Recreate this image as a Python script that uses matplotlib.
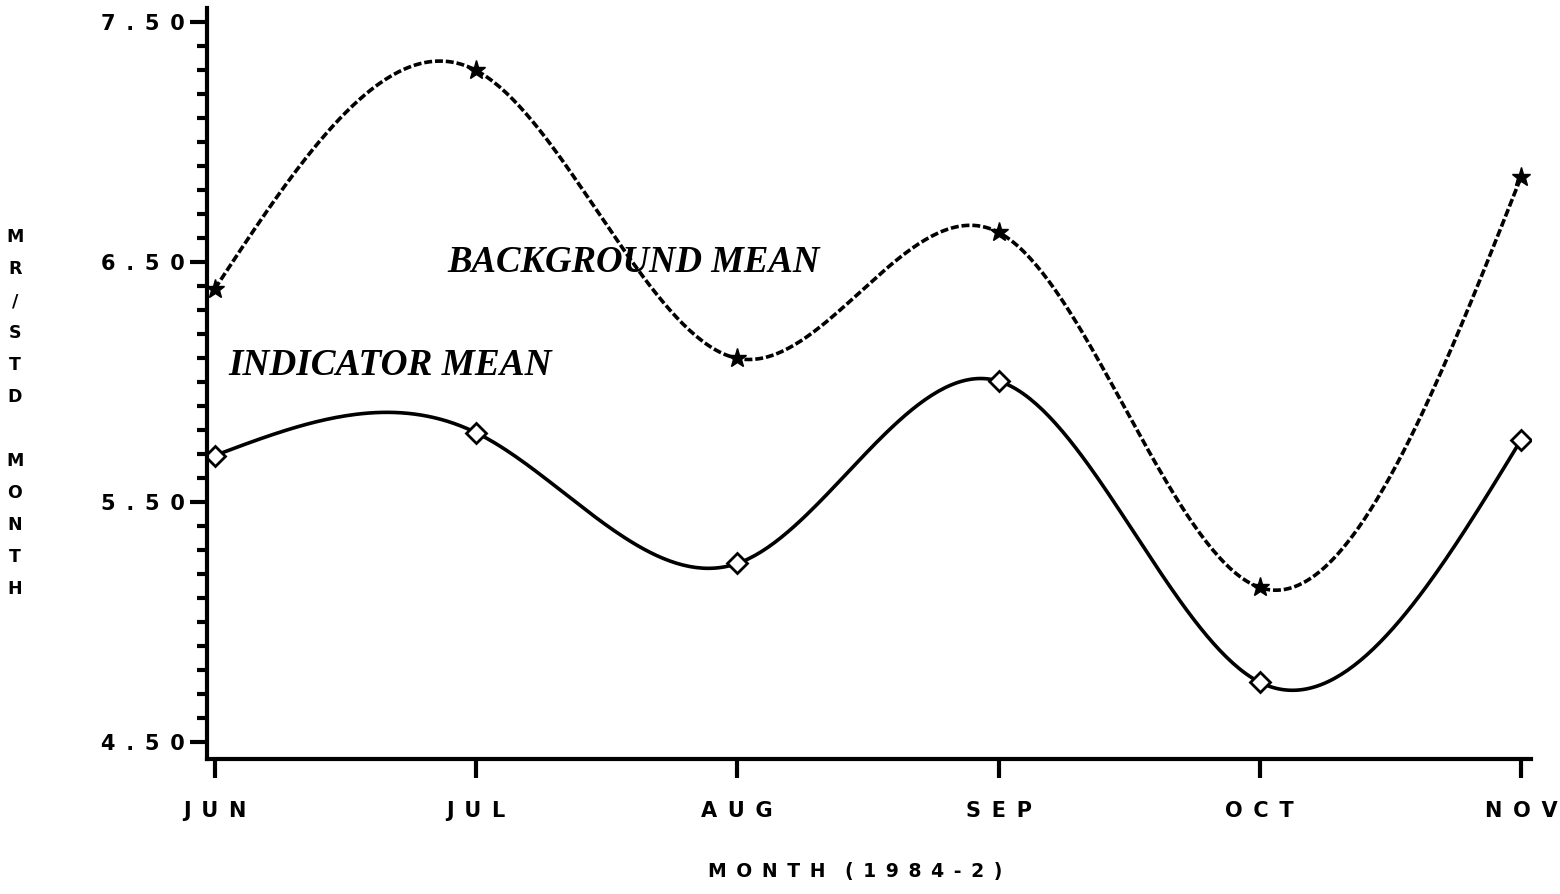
import numpy as np
import matplotlib
matplotlib.use("Agg")
import matplotlib.pyplot as plt

# data
months = ["JUN", "JUL", "AUG", "SEP", "OCT", "NOV"]
background_mean = [6.39, 7.30, 6.10, 6.625, 5.145, 6.855]
indicator_mean = [5.695, 5.79, 5.245, 6.005, 4.75, 5.76]
y_ticks = [4.50, 5.50, 6.50, 7.50]


def natural_spline(x, y, xs):
    """Natural cubic spline through (x, y), evaluated at xs."""
    x = np.asarray(x, float)
    y = np.asarray(y, float)
    n = len(x)
    h = np.diff(x)
    A = np.zeros((n, n))
    b = np.zeros(n)
    A[0, 0] = A[-1, -1] = 1.0
    for i in range(1, n - 1):
        A[i, i - 1] = h[i - 1]
        A[i, i] = 2 * (h[i - 1] + h[i])
        A[i, i + 1] = h[i]
        b[i] = 6 * ((y[i + 1] - y[i]) / h[i] - (y[i] - y[i - 1]) / h[i - 1])
    m = np.linalg.solve(A, b)
    idx = np.clip(np.searchsorted(x, xs) - 1, 0, n - 2)
    x0, x1 = x[idx], x[idx + 1]
    hh = x1 - x0
    t0 = x1 - xs
    t1 = xs - x0
    return (m[idx] * t0 ** 3 / (6 * hh) + m[idx + 1] * t1 ** 3 / (6 * hh)
            + (y[idx] / hh - m[idx] * hh / 6) * t0
            + (y[idx + 1] / hh - m[idx + 1] * hh / 6) * t1)


def spaced(s):
    # wide letter spacing like the old plotter font
    return " \u2006".join(s)


x = np.arange(len(months))
xs = np.linspace(0, len(months) - 1, 400)

fig = plt.figure(figsize=(15.6, 8.94), dpi=100)
ax = fig.add_axes([0.1327, 0.151, 0.849, 0.840])

ax.plot(xs, natural_spline(x, background_mean, xs), color="black", lw=2.6,
        dashes=(2.2, 0.8))
ax.plot(xs, natural_spline(x, indicator_mean, xs), color="black", lw=2.6)
ax.plot(x, background_mean, ls="none", marker="*", ms=14, color="black")
ax.plot(x, indicator_mean, ls="none", marker="D", ms=10, mfc="white",
        mec="black", mew=2)

ax.set_xlim(-0.03, 5.04)
ax.set_ylim(4.43, 7.56)

for s in ["top", "right"]:
    ax.spines[s].set_visible(False)
for s in ["left", "bottom"]:
    ax.spines[s].set_linewidth(3)

ax.set_yticks(y_ticks)
ax.set_yticklabels([spaced(f"{v:.2f}") for v in y_ticks],
                   fontsize=15, fontweight="bold")
ax.set_yticks(np.arange(4.5, 7.51, 0.1), minor=True)
ax.set_xticks(x)
ax.set_xticklabels([spaced(m) for m in months], fontsize=15,
                   fontweight="bold")
ax.tick_params(axis="y", which="major", length=12, width=3, pad=4)
ax.tick_params(axis="y", which="minor", length=7, width=3)
ax.tick_params(axis="x", length=14, width=3, pad=16)

ax.text(0.89, 6.50, "BACKGROUND MEAN", fontsize=26.5, fontweight="bold",
        style="italic", family="Liberation Serif", va="center", ha="left")
ax.text(0.05, 6.07, "INDICATOR MEAN", fontsize=26.8, fontweight="bold",
        style="italic", family="Liberation Serif", va="center", ha="left")

fig.text(0.5485, 0.014, spaced("MONTH") + "   " + spaced("(1984-2)"),
         fontsize=13.5, fontweight="bold", ha="center", va="bottom")
fig.text(0.0096, 0.5375, "M\nR\n/\nS\nT\nD\n\nM\nO\nN\nT\nH", fontsize=12.5,
         fontweight="bold", ha="center", va="center", linespacing=2.0)

fig.savefig("out.png", dpi=100)
